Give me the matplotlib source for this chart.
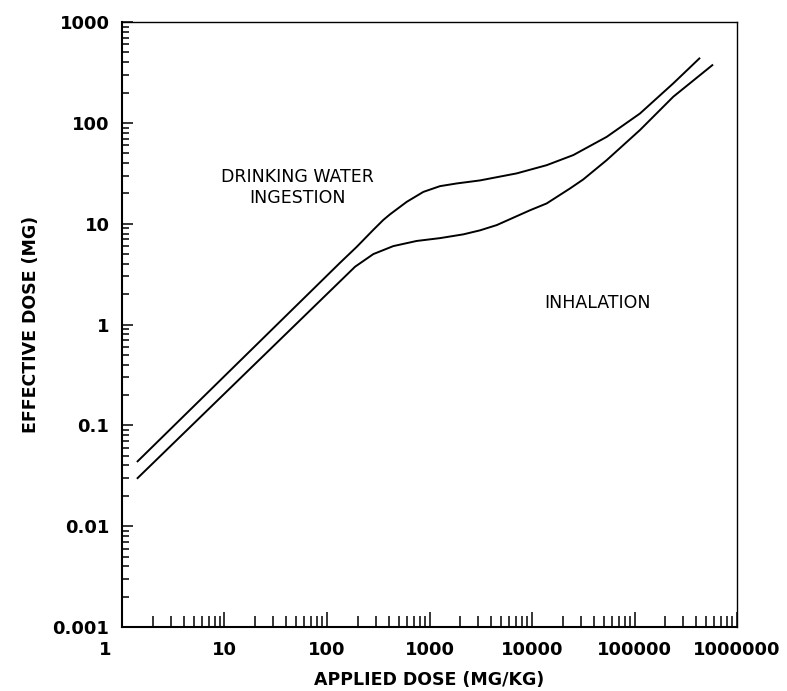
import numpy as np
import matplotlib
matplotlib.use("Agg")
import matplotlib.pyplot as plt
import matplotlib.transforms as mtransforms
from matplotlib.ticker import FixedLocator, LogLocator, NullFormatter

# Drinking water ingestion: applied dose (mg/kg) vs effective dose (mg)
water_x = [1.42, 134, 195, 283, 354, 412, 600, 871, 1265, 1842, 3110, 7100,
           13900, 25300, 53600, 113000, 239000, 429000]
water_y = [0.044, 4.1, 5.9, 8.7, 10.9, 12.4, 16.5, 20.7, 23.6, 25.1, 26.9,
           31.6, 38.1, 48, 72.8, 124, 247, 436]

# Inhalation
inhal_x = [1.42, 188, 283, 443, 750, 1265, 2140, 3110, 4530, 9550, 13900,
           23500, 31600, 53600, 113000, 239000, 574000]
inhal_y = [0.030, 3.75, 5.0, 6.0, 6.75, 7.2, 7.85, 8.6, 9.7, 13.6, 15.9,
           22.4, 27.5, 42.8, 85, 182, 374]

x_ticks = [1, 10, 100, 1000, 10000, 100000, 1000000]
x_labels = ["1", "10", "100", "1000", "10000", "100000", "1000000"]
y_ticks = [0.001, 0.01, 0.1, 1, 10, 100, 1000]
y_labels = ["0.001", "0.01", "0.1", "1", "10", "100", "1000"]

plt.rcParams['font.family'] = 'DejaVu Sans'

fig = plt.figure(figsize=(7.87, 6.91), dpi=100)
ax = fig.add_axes([0.155, 0.0926, 0.7815, 0.8754])

ax.plot(water_x, water_y, color='black', lw=1.4)
ax.plot(inhal_x, inhal_y, color='black', lw=1.4)

ax.set_xscale('log')
ax.set_yscale('log')
ax.set_xlim(1, 1e6)
ax.set_ylim(1e-3, 1e3)

ax.xaxis.set_major_locator(FixedLocator(x_ticks))
ax.yaxis.set_major_locator(FixedLocator(y_ticks))
ax.xaxis.set_minor_locator(LogLocator(base=10, subs=np.arange(2, 10)))
ax.yaxis.set_minor_locator(LogLocator(base=10, subs=np.arange(2, 10)))
ax.xaxis.set_minor_formatter(NullFormatter())
ax.yaxis.set_minor_formatter(NullFormatter())
ax.set_xticklabels(x_labels, fontsize=13, fontweight='bold')
ax.set_yticklabels(y_labels, fontsize=13, fontweight='bold')

ax.tick_params(axis='x', which='major', direction='in', length=11, width=1.1, pad=10)
ax.tick_params(axis='x', which='minor', direction='in', length=8, width=1.1)
ax.tick_params(axis='y', which='major', direction='in', length=8, width=1.1, pad=9)
ax.tick_params(axis='y', which='minor', direction='in', length=5, width=1.1)

# nudge the "1" label left so it clears the 0.001 label
first = ax.get_xticklabels()[0]
first.set_transform(first.get_transform() +
                    mtransforms.ScaledTranslation(-12 / 72, 0, fig.dpi_scale_trans))

for side in ['left', 'bottom']:
    ax.spines[side].set_linewidth(1.5)
for side in ['top', 'right']:
    ax.spines[side].set_linewidth(1.0)

ax.set_xlabel("APPLIED DOSE (MG/KG)", fontsize=12.5, fontweight='bold', labelpad=9)
ax.set_ylabel("EFFECTIVE DOSE (MG)", fontsize=12.5, fontweight='bold', labelpad=9)

ax.text(51, 23, "DRINKING WATER\nINGESTION", ha='center', va='center',
        fontsize=12.5, linespacing=1.2)
ax.text(44000, 1.63, "INHALATION", ha='center', va='center', fontsize=12.5)

fig.savefig("out.png", dpi=100)
